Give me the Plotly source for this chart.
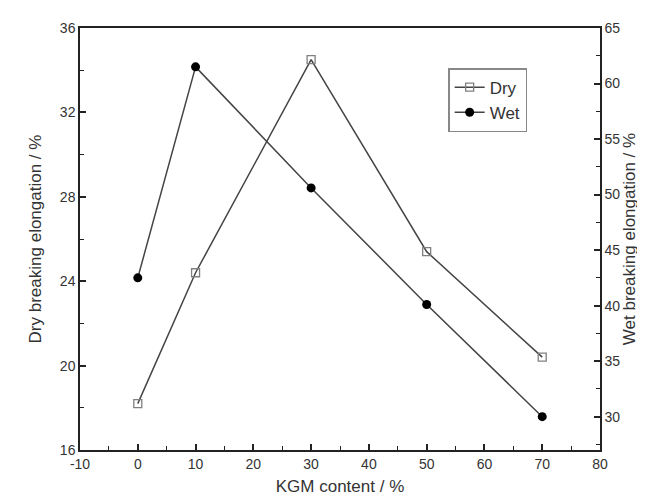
import plotly.graph_objects as go

kgm = [0, 10, 30, 50, 70]
dry = [18.2, 24.4, 34.5, 25.4, 20.4]
wet = [42.5, 61.5, 50.6, 40.1, 30.0]

x_ticks = [-10, 0, 10, 20, 30, 40, 50, 60, 70, 80]
x_tick_labels = ["-10", "0", "10", "20", "30", "40", "50", "60", "70", "80"]

font = "Liberation Sans, Arial, sans-serif"
txt = "#333333"
axc = "#222222"

fig = go.Figure()
fig.add_trace(go.Scatter(
    x=kgm, y=dry, name="Dry", mode="lines+markers",
    line=dict(color="#444444", width=1.5),
    marker=dict(symbol="square-open", size=8, color="#808080", line=dict(width=1.3, color="#808080")),
))
fig.add_trace(go.Scatter(
    x=kgm, y=wet, name="Wet", mode="lines+markers", yaxis="y2",
    line=dict(color="#444444", width=1.5),
    marker=dict(symbol="circle", size=9, color="black"),
))

axis_common = dict(
    showgrid=False, zeroline=False, showline=True, linecolor=axc, linewidth=1.5,
    ticks="inside", ticklen=6, tickwidth=1.5, tickcolor=axc,
    tickfont=dict(family=font, size=14, color=txt),
    automargin=False,
)
minor_common = dict(tick0=0, ticks="inside", ticklen=4, tickwidth=1.2, tickcolor=axc)

fig.update_layout(
    width=645, height=502,
    margin=dict(l=72, r=53, t=20, b=60, autoexpand=False),
    paper_bgcolor="white", plot_bgcolor="white",
    font=dict(family=font, color=txt),
    xaxis=dict(
        range=[-10, 80], tickvals=x_ticks, ticktext=x_tick_labels,
        minor=dict(dtick=5, **minor_common),
        title=dict(text="KGM content / %", font=dict(family=font, size=17, color=txt), standoff=10),
        mirror=True,
        **axis_common,
    ),
    yaxis=dict(
        range=[16, 36], dtick=4, tick0=0,
        minor=dict(dtick=2, **minor_common),
        title=dict(text="Dry breaking elongation / %", font=dict(family=font, size=17, color=txt), standoff=14),
        **axis_common,
    ),
    yaxis2=dict(
        range=[27, 65], dtick=5, tick0=0, overlaying="y", side="right",
        minor=dict(dtick=2.5, **minor_common),
        title=dict(text="Wet breaking elongation / %", font=dict(family=font, size=17, color=txt), standoff=4),
        **axis_common,
    ),
    legend=dict(
        x=0.708, y=0.905, xanchor="left", yanchor="top",
        bordercolor="#888888", borderwidth=1.5, bgcolor="white",
        font=dict(family=font, size=17, color=txt),
        itemwidth=30, tracegroupgap=0,
    ),
    showlegend=True,
)

fig.write_html("out.html")
